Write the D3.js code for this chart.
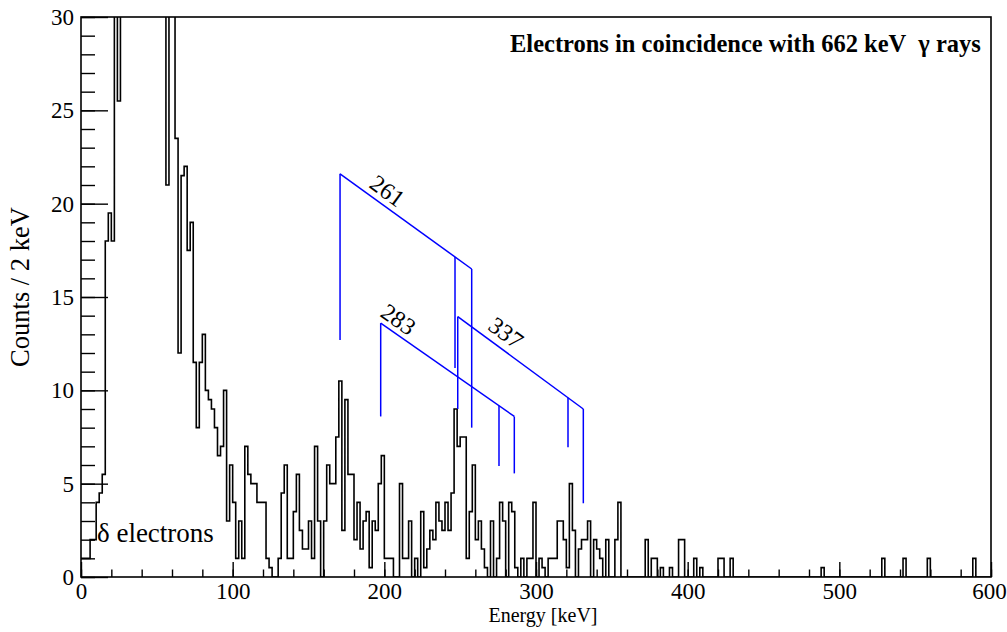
<!DOCTYPE html>
<html>
<head>
<meta charset="utf-8">
<script src="https://cdn.jsdelivr.net/npm/d3@7"></script>
<style>
  body { margin: 0; background: #fff; }
  text { font-family: "Liberation Serif", "Times New Roman", Times, serif; fill: #000; }
</style>
</head>
<body>
<svg id="chart" width="1007" height="632"></svg>
<script>
// bin contents, 2 keV per bin starting at 0 keV (values above 30 are off scale)
let counts = [
  1, 1, 1, 2, 2, 4, 4.5, 5.5, 18, 19.5,          // 0 - 18
  18, 33, 25.5, 36, 40, 44, 47, 50, 52, 54,      // 20 - 38
  55, 55, 54, 52, 50, 47, 44, 40, 21, 35,        // 40 - 58
  31, 23.5, 12, 21.5, 22, 17.5, 19, 11.5, 8, 11.5, // 60 - 78
  13, 10, 9.5, 9, 8, 6.5, 7, 10, 3, 6,           // 80 - 98
  4, 1, 3, 1, 7, 5.5, 5, 5, 4, 4,                // 100 - 118
  4, 1, 0.5, 0, 0, 1, 4.5, 6, 1, 1,              // 120 - 138
  3.5, 5.5, 2.5, 1.5, 1.5, 3, 1, 7, 3, 0,        // 140 - 158
  3, 6, 5, 5, 7.5, 10.5, 2.5, 9.5, 5.5, 5.5,     // 160 - 178
  2, 4, 1.5, 3, 3.5, 0.5, 3, 2.5, 5, 6.5,        // 180 - 198
  1, 1, 1, 0, 0, 5, 1, 1, 3, 0,                  // 200 - 218
  1, 0, 3.5, 0.5, 1.5, 2.5, 2, 4, 3, 2.5,        // 220 - 238
  4, 2.5, 4.5, 9, 7, 7.5, 7.5, 1, 3.5, 6,        // 240 - 258
  2, 3, 1.5, 0.5, 0, 3, 0, 1, 4, 3,              // 260 - 278
  0, 4, 3.5, 0.5, 0, 1, 0, 1, 1, 4,              // 280 - 298
  0, 1, 0.5, 0, 1, 1, 1, 3, 3, 2,                // 300 - 318
  0.5, 5, 2.5, 0, 1.5, 2, 2, 3, 0, 2,            // 320 - 338
  1.5, 1, 0, 2, 0, 0, 2, 4, 0, 0,                // 340 - 358
  0, 0, 0, 0, 0, 0, 2, 0, 1, 1,                  // 360 - 378
  0, 0.5, 0, 0, 0.5, 0, 0, 2, 2, 0,              // 380 - 398
  0, 0, 1, 0, 0.5, 0, 0, 0, 0, 0,                // 400 - 418
  1, 1, 0, 0, 1, 0, 0, 0, 0, 0,                  // 420 - 438
  0, 0, 0, 0, 0, 0, 0, 0, 0, 0,                  // 440 - 458
  0, 0, 0, 0, 0, 0, 0, 0, 0, 0,                  // 460 - 478
  0, 0, 0, 0, 0.5, 0, 0, 0, 0, 0,                // 480 - 498
  0, 0, 0, 0, 0, 0, 0, 0, 0, 0,                  // 500 - 518
  0, 0, 0, 0, 1, 0, 0, 0, 0, 0,                  // 520 - 538
  0, 1, 0, 0, 0, 0, 0, 0, 0, 1,                  // 540 - 558
  0, 0, 0, 0, 0, 0, 0, 0, 0, 0,                  // 560 - 578
  0, 0, 0, 0, 1, 0, 0, 0, 0, 0                   // 580 - 598
];
let binWidth = 2;

let xMajorTicks = [0, 100, 200, 300, 400, 500, 600];
let xMinorTicks = d3.range(0, 601, 20);
let yMajorTicks = [0, 5, 10, 15, 20, 25, 30];
let yMinorTicks = d3.range(0, 31, 1);

// conversion electron lines (energies in keV, heights in counts)
let lineLabels = ["261", "283", "337"];
let lineKx = [170.8, 197.6, 248.4];
let lineKtop = [21.6, 13.6, 13.95];
let lineKbottom = [12.7, 8.6, 9.0];
let lineEndX = [257.6, 285.7, 331.2];
let lineEndY = [16.5, 8.6, 9.0];
let lineEndBottom = [8.0, 5.55, 3.95];
let lineMidX = [246.6, 275.6, 321.1];
let lineMidBottom = [11.2, 5.95, 6.95];
let labelX = [189.2, 196.5, 267.5];
let labelY = [20.9, 14.0, 13.3];

let svg = d3.select("#chart");
svg.append("rect").attr("width", 1007).attr("height", 632).attr("fill", "#fff");

let x = d3.scaleLinear().domain([0, 600]).range([81, 991]);
let y = d3.scaleLinear().domain([0, 30]).range([577, 17]);

svg.append("clipPath").attr("id", "frameClip")
  .append("rect")
  .attr("x", 81).attr("y", 17)
  .attr("width", 910).attr("height", 560);

// histogram outline
let points = counts.map(function(d, i) { return [i * binWidth, d]; });
points.push([counts.length * binWidth, counts[counts.length - 1]]);

let step = d3.line()
  .x(function(d) { return x(d[0]); })
  .y(function(d) { return y(d[1]); })
  .curve(d3.curveStepAfter);

svg.append("path")
  .attr("d", step(points))
  .attr("fill", "none")
  .attr("stroke", "#000")
  .attr("stroke-width", 1.6)
  .attr("clip-path", "url(#frameClip)");

// axes, ticks pointing into the frame
let xMinor = svg.append("g").attr("transform", "translate(0,577)")
  .call(d3.axisBottom(x).tickValues(xMinorTicks).tickSize(-7.5).tickFormat(""));
let xMajor = svg.append("g").attr("transform", "translate(0,577)")
  .call(d3.axisBottom(x).tickValues(xMajorTicks).tickSize(-15).tickPadding(6));
let yMinor = svg.append("g").attr("transform", "translate(81,0)")
  .call(d3.axisLeft(y).tickValues(yMinorTicks).tickSize(-14).tickFormat(""));
let yMajor = svg.append("g").attr("transform", "translate(81,0)")
  .call(d3.axisLeft(y).tickValues(yMajorTicks).tickSize(-27).tickPadding(6));

[xMinor, xMajor, yMinor, yMajor].forEach(function(g) {
  g.attr("font-family", "Liberation Serif").attr("font-size", 23);
  g.select(".domain").remove();
  g.selectAll(".tick line").attr("stroke", "#000").attr("stroke-width", 1.4);
  g.selectAll(".tick text").attr("fill", "#000");
});
yMajor.selectAll(".tick text").attr("dx", "-1");
// keep the last label inside the page
xMajor.selectAll(".tick text").filter(function(d) { return d === 600; }).attr("dx", "-2");

// frame
svg.append("rect")
  .attr("x", 81).attr("y", 17)
  .attr("width", 910).attr("height", 560)
  .attr("fill", "none")
  .attr("stroke", "#000")
  .attr("stroke-width", 1.6);

// conversion line markers
let blue = svg.append("g")
  .attr("stroke", "#0000ff")
  .attr("stroke-width", 1.5)
  .attr("fill", "none");

lineLabels.forEach(function(lab, i) {
  let slope = (lineEndY[i] - lineKtop[i]) / (lineEndX[i] - lineKx[i]);
  let midTop = lineKtop[i] + slope * (lineMidX[i] - lineKx[i]);
  blue.append("line")
    .attr("x1", x(lineKx[i])).attr("y1", y(lineKbottom[i]))
    .attr("x2", x(lineKx[i])).attr("y2", y(lineKtop[i]));
  blue.append("line")
    .attr("x1", x(lineKx[i])).attr("y1", y(lineKtop[i]))
    .attr("x2", x(lineEndX[i])).attr("y2", y(lineEndY[i]));
  blue.append("line")
    .attr("x1", x(lineMidX[i])).attr("y1", y(midTop))
    .attr("x2", x(lineMidX[i])).attr("y2", y(lineMidBottom[i]));
  blue.append("line")
    .attr("x1", x(lineEndX[i])).attr("y1", y(lineEndY[i]))
    .attr("x2", x(lineEndX[i])).attr("y2", y(lineEndBottom[i]));

  let angle = Math.atan2(y(lineEndY[i]) - y(lineKtop[i]), x(lineEndX[i]) - x(lineKx[i])) * 180 / Math.PI;
  svg.append("text")
    .attr("transform", "translate(" + x(labelX[i]) + "," + y(labelY[i]) + ") rotate(" + angle + ")")
    .attr("font-size", 24)
    .text(lab);
});

// texts
svg.append("text")
  .attr("x", x(10.5)).attr("y", y(1.9))
  .attr("font-size", 27)
  .text("δ electrons");

let title = svg.append("text")
  .attr("x", 510).attr("y", 52)
  .attr("font-size", 24.5)
  .attr("font-weight", "bold");
title.append("tspan").text("Electrons in coincidence with 662 keV");
title.append("tspan").attr("dx", 12).text("γ rays");

svg.append("text")
  .attr("x", 543).attr("y", 622)
  .attr("text-anchor", "middle")
  .attr("font-size", 20)
  .text("Energy [keV]");

svg.append("text")
  .attr("transform", "translate(29,287) rotate(-90)")
  .attr("text-anchor", "middle")
  .attr("font-size", 26.5)
  .text("Counts / 2 keV");
</script>
</body>
</html>
